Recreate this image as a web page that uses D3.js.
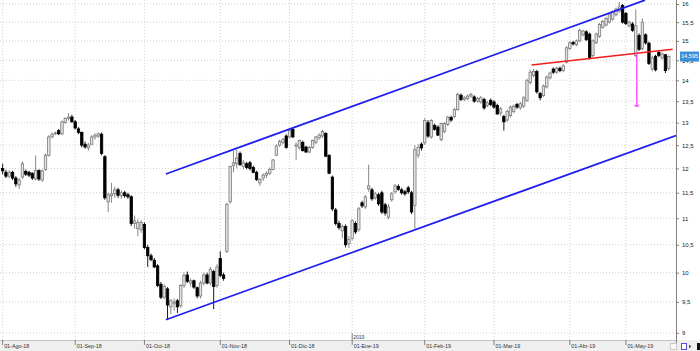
<!DOCTYPE html>
<html>
<head>
<meta charset="utf-8">
<script src="https://cdn.jsdelivr.net/npm/d3@7/dist/d3.min.js"></script>
<style>
  html, body { margin: 0; padding: 0; background: #fff; }
  svg { display: block; font-family: 'Liberation Sans', Arial, sans-serif; }
</style>
</head>
<body>
<svg id="chart" width="700" height="351"></svg>
<script>
// daily candles, [open, high, low, close]
const aug18 = [
  [12.00, 12.10, 11.88, 11.95], [11.92, 11.97, 11.80, 11.84], [11.84, 11.96, 11.80, 11.92],
  [11.92, 11.95, 11.76, 11.80], [11.80, 11.84, 11.62, 11.68], [11.66, 11.80, 11.58, 11.76],
  [11.82, 12.15, 11.78, 12.10], [11.94, 11.98, 11.84, 11.88], [11.92, 11.95, 11.82, 11.86],
  [11.90, 11.92, 11.76, 11.80], [11.78, 12.28, 11.75, 11.96], [11.96, 11.98, 11.74, 11.78],
  [11.76, 11.98, 11.72, 11.95], [11.98, 12.32, 11.95, 12.28], [12.28, 12.72, 12.25, 12.68],
  [12.68, 12.78, 12.65, 12.74], [12.75, 12.80, 12.72, 12.77], [12.82, 12.86, 12.72, 12.75],
  [12.75, 13.05, 12.72, 13.02], [13.00, 13.12, 12.98, 13.10], [13.10, 13.22, 13.05, 13.13],
  [13.13, 13.18, 13.00, 13.02]
];
const sep18 = [
  [13.02, 13.06, 12.85, 12.88], [12.86, 12.90, 12.74, 12.78], [12.78, 12.80, 12.45, 12.50],
  [12.52, 12.58, 12.42, 12.46], [12.44, 12.55, 12.38, 12.50], [12.52, 12.72, 12.50, 12.68],
  [12.68, 12.76, 12.62, 12.72], [12.70, 12.78, 12.66, 12.75], [12.74, 12.78, 12.28, 12.32],
  [12.25, 12.28, 11.36, 11.40], [11.32, 11.50, 11.12, 11.46], [11.44, 11.70, 11.30, 11.48],
  [11.48, 11.62, 11.40, 11.56], [11.56, 11.60, 11.40, 11.45], [11.44, 11.55, 11.38, 11.50],
  [11.50, 11.54, 11.40, 11.44], [11.46, 11.50, 11.38, 11.42], [11.42, 11.45, 10.85, 10.90],
  [10.90, 11.05, 10.80, 10.95], [10.80, 10.98, 10.66, 10.92], [10.78, 10.96, 10.72, 10.92]
];
const oct18 = [
  [10.88, 10.92, 10.42, 10.45], [10.45, 10.50, 10.10, 10.30], [10.30, 10.34, 10.20, 10.23],
  [10.22, 10.26, 10.08, 10.10], [10.12, 10.15, 9.75, 9.78], [9.80, 9.84, 9.55, 9.58],
  [9.58, 9.80, 9.55, 9.76], [9.72, 9.75, 9.22, 9.45], [9.42, 9.55, 9.30, 9.52],
  [9.48, 9.56, 9.36, 9.50], [9.52, 9.55, 9.32, 9.42], [9.44, 9.80, 9.40, 9.78],
  [9.78, 10.00, 9.74, 9.95], [9.96, 10.02, 9.82, 9.85], [9.82, 9.90, 9.76, 9.86],
  [9.86, 9.88, 9.72, 9.75], [9.74, 9.76, 9.56, 9.60], [9.60, 9.86, 9.56, 9.82],
  [9.82, 10.00, 9.78, 9.96], [9.96, 10.00, 9.80, 9.82], [9.82, 10.10, 9.78, 10.06],
  [10.02, 10.05, 9.38, 9.76], [9.78, 10.15, 9.74, 10.10]
];
const nov18 = [
  [10.25, 10.38, 9.92, 9.95], [9.96, 10.00, 9.86, 9.90], [10.38, 11.30, 10.35, 11.27],
  [11.32, 12.06, 11.28, 12.04], [12.06, 12.38, 11.92, 12.12], [12.10, 12.40, 12.00, 12.22],
  [12.32, 12.36, 12.05, 12.08], [12.04, 12.18, 11.98, 12.12], [12.10, 12.14, 11.98, 12.02],
  [12.12, 12.16, 11.96, 12.00], [12.02, 12.06, 11.90, 11.92], [11.92, 11.95, 11.74, 11.77],
  [11.70, 11.80, 11.64, 11.77], [11.80, 11.90, 11.74, 11.86], [11.86, 11.94, 11.80, 11.90],
  [11.90, 12.02, 11.86, 11.98], [11.98, 12.20, 11.96, 12.18], [12.28, 12.52, 12.26, 12.48],
  [12.50, 12.62, 12.46, 12.58], [12.56, 12.66, 12.52, 12.62], [12.70, 12.74, 12.42, 12.45]
];
const dec18 = [
  [12.68, 12.88, 12.65, 12.83], [12.85, 12.88, 12.66, 12.68], [12.50, 12.56, 12.18, 12.50],
  [12.44, 12.62, 12.40, 12.60], [12.56, 12.60, 12.36, 12.38], [12.46, 12.48, 12.33, 12.35],
  [12.35, 12.48, 12.32, 12.45], [12.45, 12.62, 12.42, 12.60], [12.56, 12.70, 12.52, 12.68],
  [12.66, 12.76, 12.62, 12.72], [12.70, 12.84, 12.66, 12.80], [12.76, 12.78, 12.24, 12.26],
  [12.28, 12.30, 11.88, 11.90], [11.82, 11.85, 11.14, 11.18], [11.16, 11.20, 10.86, 10.90],
  [10.90, 10.95, 10.78, 10.82], [10.76, 10.88, 10.62, 10.84], [10.84, 10.88, 10.45, 10.50],
  [10.52, 10.66, 10.44, 10.60]
];
const jan19 = [
  [10.62, 10.98, 10.58, 10.95], [10.90, 10.94, 10.70, 10.74], [10.78, 11.22, 10.74, 11.18],
  [11.30, 11.34, 11.20, 11.24], [11.22, 11.46, 11.18, 11.42], [11.58, 12.08, 11.52, 11.64],
  [11.56, 11.60, 11.34, 11.38], [11.40, 11.52, 11.36, 11.48], [11.46, 11.50, 11.24, 11.28],
  [11.50, 11.54, 11.08, 11.12], [11.26, 11.30, 11.05, 11.10], [11.02, 11.28, 10.98, 11.22],
  [11.36, 11.52, 11.32, 11.48], [11.52, 11.68, 11.48, 11.64], [11.63, 11.67, 11.54, 11.57],
  [11.56, 11.60, 11.46, 11.50], [11.52, 11.56, 11.44, 11.48], [11.60, 11.64, 11.48, 11.52],
  [11.50, 11.54, 11.08, 11.12], [11.25, 12.50, 10.80, 12.40], [12.28, 12.52, 12.22, 12.45],
  [12.52, 12.56, 12.38, 12.44]
];
const feb19 = [
  [12.55, 13.10, 12.50, 13.05], [13.00, 13.06, 12.66, 12.70], [12.68, 13.08, 12.64, 13.05],
  [12.94, 12.98, 12.82, 12.85], [12.90, 12.94, 12.70, 12.72], [12.62, 13.00, 12.58, 12.98],
  [12.80, 13.02, 12.76, 12.98], [12.96, 13.16, 12.92, 13.13], [13.12, 13.16, 13.02, 13.06],
  [13.14, 13.34, 13.10, 13.30], [13.30, 13.70, 13.28, 13.66], [13.64, 13.68, 13.50, 13.54],
  [13.54, 13.62, 13.50, 13.58], [13.56, 13.66, 13.52, 13.62], [13.62, 13.70, 13.58, 13.66],
  [13.60, 13.64, 13.46, 13.50], [13.50, 13.60, 13.46, 13.56], [13.48, 13.62, 13.44, 13.58],
  [13.54, 13.58, 13.30, 13.34], [13.40, 13.50, 13.36, 13.46], [13.52, 13.56, 13.38, 13.42]
];
const mar19 = [
  [13.48, 13.52, 13.32, 13.36], [13.40, 13.44, 13.18, 13.20], [13.22, 13.36, 13.16, 13.32],
  [13.14, 13.18, 12.82, 13.02], [13.06, 13.30, 13.02, 13.26], [13.16, 13.40, 13.12, 13.36],
  [13.26, 13.42, 13.22, 13.38], [13.42, 13.46, 13.32, 13.36], [13.34, 13.48, 13.30, 13.44],
  [13.38, 13.62, 13.34, 13.58], [13.52, 14.04, 13.48, 14.00], [13.95, 14.26, 13.90, 14.20],
  [14.12, 14.28, 14.08, 14.22], [14.22, 14.26, 13.68, 13.72], [13.68, 13.72, 13.52, 13.58],
  [13.63, 13.90, 13.60, 13.86], [13.84, 14.12, 13.80, 14.08], [14.06, 14.22, 14.02, 14.18],
  [14.28, 14.32, 14.16, 14.20], [14.20, 14.34, 14.16, 14.30], [14.30, 14.34, 14.20, 14.24],
  [14.24, 14.40, 14.20, 14.36], [14.45, 14.86, 14.42, 14.82]
];
const apr19 = [
  [14.80, 15.00, 14.76, 14.95], [14.96, 15.00, 14.88, 14.92], [14.90, 15.04, 14.86, 15.00],
  [15.00, 15.32, 14.96, 15.28], [15.16, 15.30, 15.12, 15.26], [15.24, 15.28, 15.00, 15.03],
  [15.18, 15.22, 14.52, 14.55], [14.62, 15.04, 14.58, 15.00], [14.95, 15.22, 14.92, 15.18],
  [15.12, 15.48, 15.08, 15.44], [15.36, 15.56, 15.32, 15.52], [15.42, 15.64, 15.38, 15.60],
  [15.50, 15.76, 15.46, 15.72], [15.58, 15.82, 15.54, 15.78], [15.70, 15.90, 15.66, 15.86],
  [15.80, 16.06, 15.76, 15.92], [15.96, 16.00, 15.46, 15.50]
];
const may19 = [
  [15.74, 15.78, 15.42, 15.46], [15.40, 15.54, 15.36, 15.50], [15.45, 15.50, 15.24, 15.28],
  [14.62, 15.85, 14.58, 15.40], [15.14, 15.20, 14.74, 14.78], [14.80, 15.60, 14.76, 15.50],
  [15.16, 15.20, 14.90, 14.95], [14.94, 14.98, 14.38, 14.42], [14.28, 14.62, 14.22, 14.56],
  [14.60, 14.64, 14.22, 14.26], [14.70, 14.74, 14.58, 14.62], [14.56, 14.70, 14.52, 14.66],
  [14.64, 14.66, 14.18, 14.24], [14.30, 14.62, 14.24, 14.595]
];

// x axis: first session of every month (candle index)
const monthLabels = ['01-Ago-18', '01-Sep-18', '01-Oct-18', '01-Nov-18', '01-Dic-18',
  '01-Ene-19', '01-Feb-19', '01-Mar-19', '01-Abr-19', '01-May-19'];
const monthStart = [0, 22, 43, 66, 87, 106, 128, 149, 172, 189];
const yearLabel = '2019';
const yearStart = 106;

const priceTicks = d3.range(9, 16.001, 0.5);
const minorTicks = d3.range(9, 16.001, 0.1);
const lastPrice = 14.595;

// drawn lines, [candle index, price]
const upperChannel = [[49.5, 11.885], [194.8, 16.11]];
const lowerChannel = [[49.5, 9.21], [204.2, 12.71]];
const neckline = [[160.4, 14.38], [203.2, 14.78]];
const target = [[192.3, 14.70], [192.3, 13.39]];

const candles = [].concat(aug18, sep18, oct18, nov18, dec18, jan19, feb19, mar19, apr19, may19);

const svg = d3.select('#chart');
const plotW = 676;
const plotH = 340;

const x = d3.scaleLinear().domain([-0.8, 204.2]).range([0, plotW]);
const y = d3.scaleLog().domain([9, 16]).range([332.9, 4]);

const fmt = d => (Number.isInteger(d) ? String(d) : d.toFixed(1).replace('.', ','));

svg.append('defs').append('clipPath').attr('id', 'plot')
  .append('rect').attr('width', plotW).attr('height', plotH);

// grid
const grid = svg.append('g').attr('stroke', '#d2d2d2').attr('stroke-dasharray', '1,2');
grid.selectAll('.h').data(priceTicks).enter().append('line')
  .attr('x1', 0).attr('x2', plotW)
  .attr('y1', d => y(d)).attr('y2', d => y(d));
grid.selectAll('.v').data(monthStart).enter().append('line')
  .attr('x1', d => x(d)).attr('x2', d => x(d))
  .attr('y1', 0).attr('y2', plotH);

// bottom band
svg.append('rect').attr('x', 0).attr('y', plotH).attr('width', 700).attr('height', 11)
  .attr('fill', '#efefef');
svg.append('line').attr('x1', 0).attr('x2', plotW).attr('y1', plotH + 0.5).attr('y2', plotH + 0.5)
  .attr('stroke', '#c4c4c4');

const xAxis = svg.append('g');
xAxis.selectAll('line').data(monthStart).enter().append('line')
  .attr('x1', d => x(d)).attr('x2', d => x(d))
  .attr('y1', plotH).attr('y2', plotH + 5)
  .attr('stroke', '#808080');
xAxis.selectAll('text').data(monthStart).enter().append('text')
  .attr('x', d => x(d) + 1.5)
  .attr('y', 348)
  .attr('font-size', 5.4)
  .attr('fill', '#333')
  .text((d, i) => monthLabels[i]);

svg.append('line')
  .attr('x1', x(yearStart)).attr('x2', x(yearStart))
  .attr('y1', 333).attr('y2', plotH)
  .attr('stroke', '#808080');
svg.append('text')
  .attr('x', x(yearStart) + 1).attr('y', 338.5)
  .attr('font-size', 5)
  .attr('fill', '#333')
  .text(yearLabel);

// candles
const cg = svg.append('g');
const bodyW = 2.4;
candles.forEach((c, i) => {
  const [o, h, l, cl] = c;
  const up = cl >= o;
  const col = up ? '#7a7a7a' : '#000';
  cg.append('line')
    .attr('x1', x(i)).attr('x2', x(i))
    .attr('y1', y(h)).attr('y2', y(l))
    .attr('stroke', col).attr('stroke-width', 0.9);
  const top = y(Math.max(o, cl));
  const bot = y(Math.min(o, cl));
  cg.append('rect')
    .attr('x', x(i) - bodyW / 2)
    .attr('y', top)
    .attr('width', bodyW)
    .attr('height', Math.max(bot - top, 1))
    .attr('fill', up ? '#e4e4e4' : '#000')
    .attr('stroke', col)
    .attr('stroke-width', 0.8);
});

// drawn lines
const line = d3.line().x(d => x(d[0])).y(d => y(d[1]));
const draw = svg.append('g').attr('clip-path', 'url(#plot)').attr('fill', 'none');
draw.append('path').datum(upperChannel).attr('d', line)
  .attr('stroke', '#1f1ff0').attr('stroke-width', 1.7);
draw.append('path').datum(lowerChannel).attr('d', line)
  .attr('stroke', '#1f1ff0').attr('stroke-width', 1.7);
draw.append('path').datum(neckline).attr('d', line)
  .attr('stroke', '#f21d1d').attr('stroke-width', 1.5);
draw.append('path').datum(target).attr('d', line)
  .attr('stroke', '#ff4cff').attr('stroke-width', 1.4);
svg.append('rect')
  .attr('x', x(target[1][0]) - 2).attr('y', y(target[1][1]) - 1)
  .attr('width', 4).attr('height', 2)
  .attr('fill', '#ff4cff');

// right axis
const yAxis = svg.append('g').attr('transform', `translate(${plotW},0)`);
yAxis.call(d3.axisRight(y).tickValues(minorTicks).tickSize(2).tickFormat(''));
yAxis.call(d3.axisRight(y).tickValues(priceTicks).tickSize(3).tickPadding(3).tickFormat(fmt));
yAxis.selectAll('path.domain').attr('d', `M0.5,0V${plotH + 3}`).attr('stroke', '#808080');
yAxis.selectAll('line').attr('stroke', '#808080');
yAxis.selectAll('text').attr('font-size', 6).attr('fill', '#222')
  .attr('font-family', "'Liberation Sans', Arial, sans-serif");

// last price marker (covers the 14,5 label, as in the original)
const py = y(lastPrice);
svg.append('rect')
  .attr('x', 680).attr('y', py - 5)
  .attr('width', 19).attr('height', 10)
  .attr('fill', '#3a8fdc');
svg.append('text')
  .attr('x', 681).attr('y', py)
  .attr('dy', '0.35em')
  .attr('font-size', 5.6)
  .attr('fill', '#fff')
  .text(String(lastPrice).replace('.', ','));

// toolbar icons, bottom right
const tb = svg.append('g');
tb.append('rect').attr('x', 670.5).attr('y', 343.5).attr('width', 6).attr('height', 6)
  .attr('fill', '#fafafa').attr('stroke', '#c8c8c8');
tb.append('rect').attr('x', 681.5).attr('y', 343.5).attr('width', 5).attr('height', 6)
  .attr('fill', '#fff').attr('stroke', '#5a4fd8');
tb.append('path').attr('d', 'M689,344.5 L691.5,346.5 L689,348.5 Z').attr('fill', '#555');
tb.append('rect').attr('x', 697).attr('y', 343).attr('width', 3).attr('height', 7).attr('fill', '#111');
</script>
</body>
</html>
